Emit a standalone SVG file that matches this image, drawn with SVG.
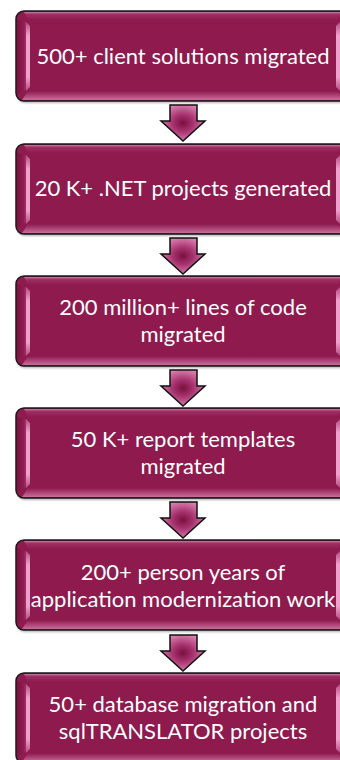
<svg xmlns="http://www.w3.org/2000/svg" xmlns:xlink="http://www.w3.org/1999/xlink" width="340" height="760" viewBox="0 0 340 760">
<style>
.lbl{font-family:Lato,"Open Sans","Liberation Sans",sans-serif;font-size:22px;fill:#ffffff;text-anchor:middle}
.arrow{stroke:#111;stroke-width:1.5;stroke-linejoin:miter}
</style>
<defs>
<linearGradient id="gTop" x1="0" y1="0" x2="0" y2="1">
<stop offset="0" stop-color="#c47a9e"/><stop offset="0.3" stop-color="#9e2f62"/><stop offset="1" stop-color="#8e1a4e"/>
</linearGradient>
<linearGradient id="gBot" x1="0" y1="0" x2="0" y2="1">
<stop offset="0" stop-color="#8e1a4e"/><stop offset="1" stop-color="#c86e9a"/>
</linearGradient>
<linearGradient id="gLeft" x1="0" y1="0" x2="1" y2="0">
<stop offset="0" stop-color="#7c1443"/><stop offset="0.6" stop-color="#8e1a4e"/><stop offset="1" stop-color="#a53a6c"/>
</linearGradient>
<linearGradient id="gRight" x1="1" y1="0" x2="0" y2="0">
<stop offset="0" stop-color="#7c1443"/><stop offset="0.6" stop-color="#8e1a4e"/><stop offset="1" stop-color="#a53a6c"/>
</linearGradient>
<linearGradient id="gHi" x1="0" y1="0" x2="0" y2="1">
<stop offset="0" stop-color="#b54a80"/><stop offset="0.2" stop-color="#f0a0cc"/><stop offset="0.8" stop-color="#f0a0cc"/><stop offset="1" stop-color="#b54a80"/>
</linearGradient>
<radialGradient id="gArrow" cx="0.5" cy="0.5" r="0.6">
<stop offset="0" stop-color="#7a0f3e"/><stop offset="0.4" stop-color="#a83470"/><stop offset="1" stop-color="#e894c0"/>
</radialGradient>
<filter id="sh" x="-5%" y="-10%" width="110%" height="130%">
<feGaussianBlur stdDeviation="1"/>
</filter>
<g id="box">
<rect x="17" y="2" width="334" height="90" rx="8" fill="#000" opacity="0.3" filter="url(#sh)"/>
<rect x="16" y="0" width="334" height="90" rx="8" fill="#8e1a4e"/>
<path d="M24,1 H342 L338,9 H28 Z" fill="url(#gTop)"/>
<path d="M28,80 H338 L344,89 H22 Z" fill="url(#gBot)"/>
<path d="M17,8 L27,12 V78 L17,84 Z" fill="url(#gLeft)"/>
<path d="M349,8 L339,12 V78 L349,84 Z" fill="url(#gRight)"/>
<path d="M26,11 L30,15 V76 L26,80 Z" fill="url(#gHi)"/>
<path d="M340,11 L336,15 V76 L340,80 Z" fill="url(#gHi)"/>
<rect x="16" y="0" width="334" height="90" rx="8" fill="none" stroke="#1a1a1a" stroke-width="1.5"/>
</g>
<path id="arr" class="arrow" d="M170,0 H197 V16 H205 L183,36 L161,16 H170 Z" fill="url(#gArrow)"/>
</defs>

<g id="connectors">
<use xlink:href="#arr" y="105"/>
<use xlink:href="#arr" y="238"/>
<use xlink:href="#arr" y="370"/>
<use xlink:href="#arr" y="502"/>
<use xlink:href="#arr" y="635"/>
</g>

<g id="node1">
<use xlink:href="#box" y="11"/>
<text class="lbl" x="183" y="64">500+ client solutions migrated</text>
</g>
<g id="node2">
<use xlink:href="#box" y="144"/>
<text class="lbl" x="183" y="196">20 K+ .NET projects generated</text>
</g>
<g id="node3">
<use xlink:href="#box" y="276"/>
<text class="lbl" x="183" y="315">200 million+ lines of code</text>
<text class="lbl" x="183" y="342">migrated</text>
</g>
<g id="node4">
<use xlink:href="#box" y="408"/>
<text class="lbl" x="183" y="447">50 K+ report templates</text>
<text class="lbl" x="183" y="474">migrated</text>
</g>
<g id="node5">
<use xlink:href="#box" y="540"/>
<text class="lbl" x="183" y="580">200+ person years of</text>
<text class="lbl" x="183" y="607">application modernization work</text>
</g>
<g id="node6">
<use xlink:href="#box" y="673"/>
<text class="lbl" x="183" y="712">50+ database migration and</text>
<text class="lbl" x="183" y="739">sqlTRANSLATOR projects</text>
</g>
</svg>
